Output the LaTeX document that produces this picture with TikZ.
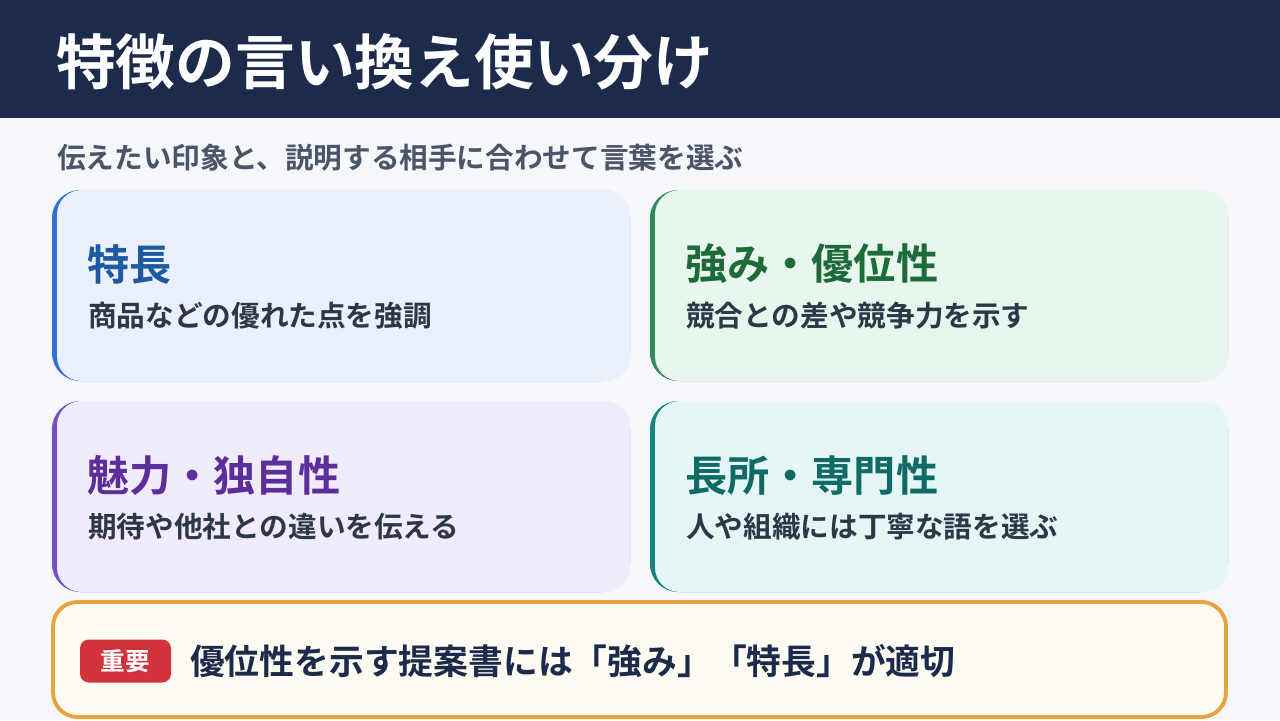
\documentclass[tikz,border=0pt]{standalone}
\usepackage{fontspec}
\setmainfont{Noto Sans CJK JP}[BoldFont={* Bold}]
\definecolor{navy}{HTML}{1C2B4B}
\definecolor{bgc}{HTML}{F5F7FB}
\definecolor{subc}{HTML}{4A5568}
\definecolor{txtc}{HTML}{2D3748}
\definecolor{blueA}{HTML}{2F72D0}\definecolor{blueF}{HTML}{EAF1FD}\definecolor{blueT}{HTML}{1E5AA0}
\definecolor{greenA}{HTML}{2E8B57}\definecolor{greenF}{HTML}{E8F6EE}\definecolor{greenT}{HTML}{1E6B3A}
\definecolor{violetA}{HTML}{7B4FC4}\definecolor{violetF}{HTML}{F1ECFC}\definecolor{violetT}{HTML}{5B2E9A}
\definecolor{tealA}{HTML}{14857F}\definecolor{tealF}{HTML}{E6F6F6}\definecolor{tealT}{HTML}{0E6B66}
\definecolor{orangeB}{HTML}{E8A33A}\definecolor{creamF}{HTML}{FEFBF2}\definecolor{redB}{HTML}{D0343A}

\tikzset{
  cardtitle/.style={anchor=west, font=\fontsize{24}{28}\selectfont\bfseries},
  carddesc/.style={anchor=west, font=\fontsize{16.3}{19}\selectfont\bfseries, text=txtc},
}
% one card: accent colour, fill colour, left x, top y
\newcommand{\card}[4]{%
  \fill[#1, rounded corners=16] (#3,#4) rectangle ++(578,191);
  \fill[#2, rounded corners=14] (#3+5,#4) rectangle ++(573,191);
}

\begin{document}
\begin{tikzpicture}[x=0.02cm, y=-0.02cm]
  \fill[bgc] (0,0) rectangle (1280,720);
  \useasboundingbox (0,0) rectangle (1280,720);
  \fill[navy] (0,0) rectangle (1280,118);
  \node[anchor=west, text=white, font=\fontsize{34}{40}\selectfont\bfseries] (title) at (50,62) {特徴の言い換え使い分け};
  \node[anchor=west, text=subc, font=\fontsize{16.3}{19}\selectfont\bfseries] (sub) at (51,158) {伝えたい印象と、説明する相手に合わせて言葉を選ぶ};

  \card{blueA}{blueF}{52}{190}
  \card{greenA}{greenF}{650}{190}
  \card{violetA}{violetF}{52}{401}
  \card{tealA}{tealF}{650}{401}

  \node[cardtitle, text=blueT] (t1) at (81,264) {特長};
  \node[carddesc] (d1) at (82,316) {商品などの優れた点を強調};
  \node[cardtitle, text=greenT] (t2) at (679,264) {強み・優位性};
  \node[carddesc] (d2) at (680,316) {競合との差や競争力を示す};
  \node[cardtitle, text=violetT] (t3) at (81,475) {魅力・独自性};
  \node[carddesc] (d3) at (82,527) {期待や他社との違いを伝える};
  \node[cardtitle, text=tealT] (t4) at (679,475) {長所・専門性};
  \node[carddesc] (d4) at (680,527) {人や組織には丁寧な語を選ぶ};

  \draw[orangeB, fill=creamF, line width=2.2pt, rounded corners=14] (53,602) rectangle (1226,717);
  \node[fill=redB, text=white, rounded corners=5, minimum width=91*0.02cm, minimum height=43*0.02cm,
        font=\fontsize{14}{16}\selectfont\bfseries] (badge) at (125.5,661) {重要};
  \node[anchor=west, text=navy, font=\fontsize{19.8}{23}\selectfont\bfseries] (note) at (184,661)
        {優位性を示す提案書には「強み」「特長」が適切};
\end{tikzpicture}
\end{document}
